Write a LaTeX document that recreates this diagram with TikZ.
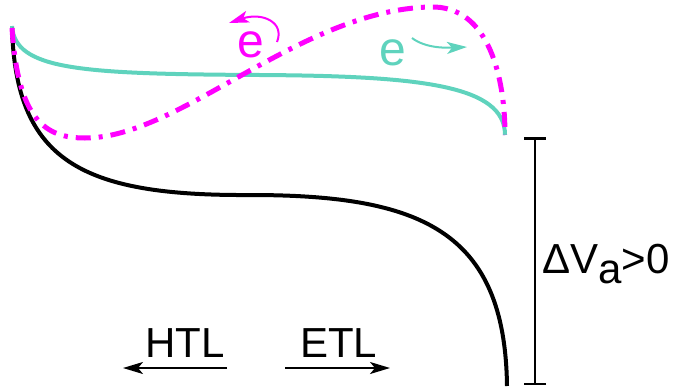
\documentclass[tikz,border=0pt]{standalone}
\usepackage{fontspec}
\setmainfont{Liberation Sans}
\usetikzlibrary{arrows.meta}
\definecolor{elcyan}{RGB}{95,211,189}
\definecolor{elmag}{RGB}{255,0,255}

\begin{document}
\begin{tikzpicture}[x=1pt,y=-1pt]
\tikzstyle{band}=[line width=4pt]
\tikzstyle{lbl}=[inner sep=0pt,anchor=base west,font=\fontsize{42}{46}\selectfont]
\tikzstyle{elbl}=[inner sep=0pt,anchor=base west,font=\fontsize{48}{52}\selectfont]
\tikzstyle{flow}=[line width=2pt,-{Stealth[length=20pt,width=12pt,inset=5pt]}]
\useasboundingbox (0,0) rectangle (693,386);
% bands
\draw[band,elcyan] (12,26) .. controls (15,70) and (80,74) .. (260,75)
	.. controls (420,76) and (505,85) .. (505,135);
\draw[band,black] (12,28) .. controls (16,160) and (80,196) .. (250,195)
	.. controls (420,195) and (505,230) .. (507,386);
\draw[line width=5pt,elmag,dash pattern=on 15pt off 8pt on 4pt off 8pt]
	(12,28) .. controls (18,120) and (45,138) .. (85,138)
	.. controls (180,138) and (300,10) .. (430,7)
	.. controls (490,5) and (505,80) .. (505,135);
% electrons
\node[elbl,text=elmag] (emag) at (237,57) {e};
\node[elbl,text=elcyan] (ecyan) at (379,65) {e};
\coordinate (ma) at (277,42);
\coordinate (mb) at (229,23);
\coordinate (ca) at (412,38);
\coordinate (cb) at (467,47);
\draw[flow,elmag] (ma) .. controls (285,22) and (262,12) .. (mb);
\draw[flow,elcyan] (ca) .. controls (425,48) and (445,48) .. (cb);
% voltage
\coordinate (vtop) at (535,137);
\coordinate (vbot) at (535,385);
\draw[line width=2.5pt,{Bar[width=22pt]}-{Bar[width=22pt]}] (vtop) -- (vbot);
\node[lbl] (dva) at (542,273) {ΔV\raisebox{-10pt}{a}>0};
% layers
\node[lbl] (htl) at (145,357) {HTL};
\node[lbl] (etl) at (300,357) {ETL};
\coordinate (ha) at (227,368);
\coordinate (hb) at (123,368);
\coordinate (ea) at (285,368);
\coordinate (eb) at (390,368);
\draw[flow] (ha) -- (hb);
\draw[flow] (ea) -- (eb);
\end{tikzpicture}
\end{document}
